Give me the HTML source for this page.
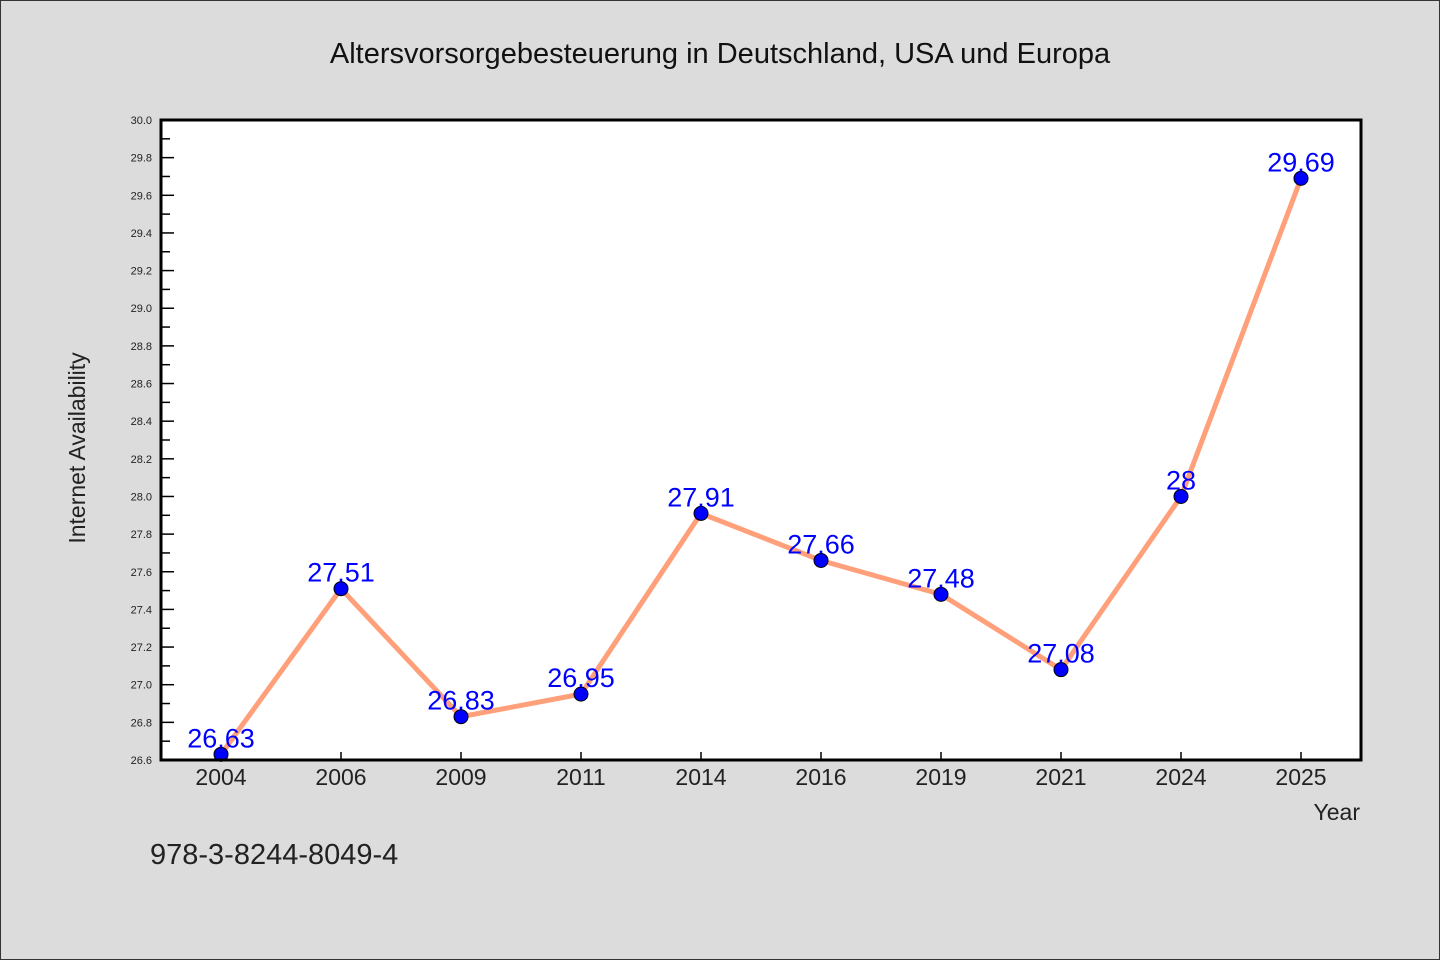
<!DOCTYPE html>
<html><head><meta charset="utf-8"><style>
body{margin:0;background:#dcdcdc}
svg{display:block}
text{font-family:"WenQuanYi Zen Hei","Liberation Sans",sans-serif}
</style></head><body>
<svg id="chart" width="1440" height="960">
<rect x="0.5" y="0.5" width="1439" height="959" fill="#dcdcdc" stroke="#333"/>
<text x="720" y="63" text-anchor="middle" font-size="29" fill="#111">Altersvorsorgebesteuerung in Deutschland, USA und Europa</text>
<rect x="161" y="120" width="1200" height="640" fill="#fff"/>
<g id="ticks"></g>
<g id="series"></g>
<rect x="161" y="120" width="1200" height="640" fill="none" stroke="#000" stroke-width="3"/>
<text transform="translate(85,448) rotate(-90)" text-anchor="middle" font-size="23" fill="#222">Internet Availability</text>
<text x="1360" y="820" text-anchor="end" font-size="23" fill="#222">Year</text>
<text x="150" y="864" font-size="29" fill="#222">978-3-8244-8049-4</text>
</svg>
<script>
const categories=["2004","2006","2009","2011","2014","2016","2019","2021","2024","2025"];
const values=[26.63,27.51,26.83,26.95,27.91,27.66,27.48,27.08,28,29.69];
const valueLabels=["26.63","27.51","26.83","26.95","27.91","27.66","27.48","27.08","28","29.69"];
const yTicks=[26.6,26.8,27.0,27.2,27.4,27.6,27.8,28.0,28.2,28.4,28.6,28.8,29.0,29.2,29.4,29.6,29.8,30.0];
const NS="http://www.w3.org/2000/svg";
const L=161,R=1361,T=120,B=760,yMin=26.6,yMax=30.0;
const x=i=>L+(R-L)/categories.length*(i+0.5);
const y=v=>B-(v-yMin)/(yMax-yMin)*(B-T);
function mk(tag,attrs,parent){const e=document.createElementNS(NS,tag);for(const k in attrs)e.setAttribute(k,attrs[k]);parent.appendChild(e);return e;}
const tg=document.getElementById('ticks'),sg=document.getElementById('series');
yTicks.forEach((v,i)=>{
 const t=mk('line',{x1:L,x2:L+13,y1:y(v),y2:y(v),stroke:'#000','stroke-width':1.5},tg);
 
 
 const lb=mk('text',{x:152,y:y(v)+4,'text-anchor':'end','font-size':11,fill:'#222'},tg);
 lb.textContent=v.toFixed(1);
 
 
 if(i<yTicks.length-1){
  const m=mk('line',{x1:L,x2:L+9,y1:y(v+0.1),y2:y(v+0.1),stroke:'#000','stroke-width':1.5},tg);
  
  
 }
});
categories.forEach((c,i)=>{
 const t=mk('line',{x1:x(i),x2:x(i),y1:B,y2:B-8,stroke:'#000','stroke-width':1.5},tg);
 
 
 const lb=mk('text',{x:x(i),y:785,'text-anchor':'middle','font-size':23,fill:'#222'},tg);
 lb.textContent=c;
 
 
});
const line=mk('polyline',{points:values.map((v,i)=>x(i)+','+y(v)).join(' '),fill:'none',stroke:'#ffa07a','stroke-width':5,'stroke-linejoin':'round'},sg);


values.forEach((v,i)=>{
 const p=mk('circle',{cx:x(i),cy:y(v),r:7,fill:'#0000ff',stroke:'#000','stroke-width':1},sg);
 
 
});
values.forEach((v,i)=>{
 const lb=mk('text',{x:x(i),y:y(v)-7,'text-anchor':'middle','font-size':27,fill:'#0000ff'},sg);
 lb.textContent=valueLabels[i];
 
 
});
</script>
</body></html>
